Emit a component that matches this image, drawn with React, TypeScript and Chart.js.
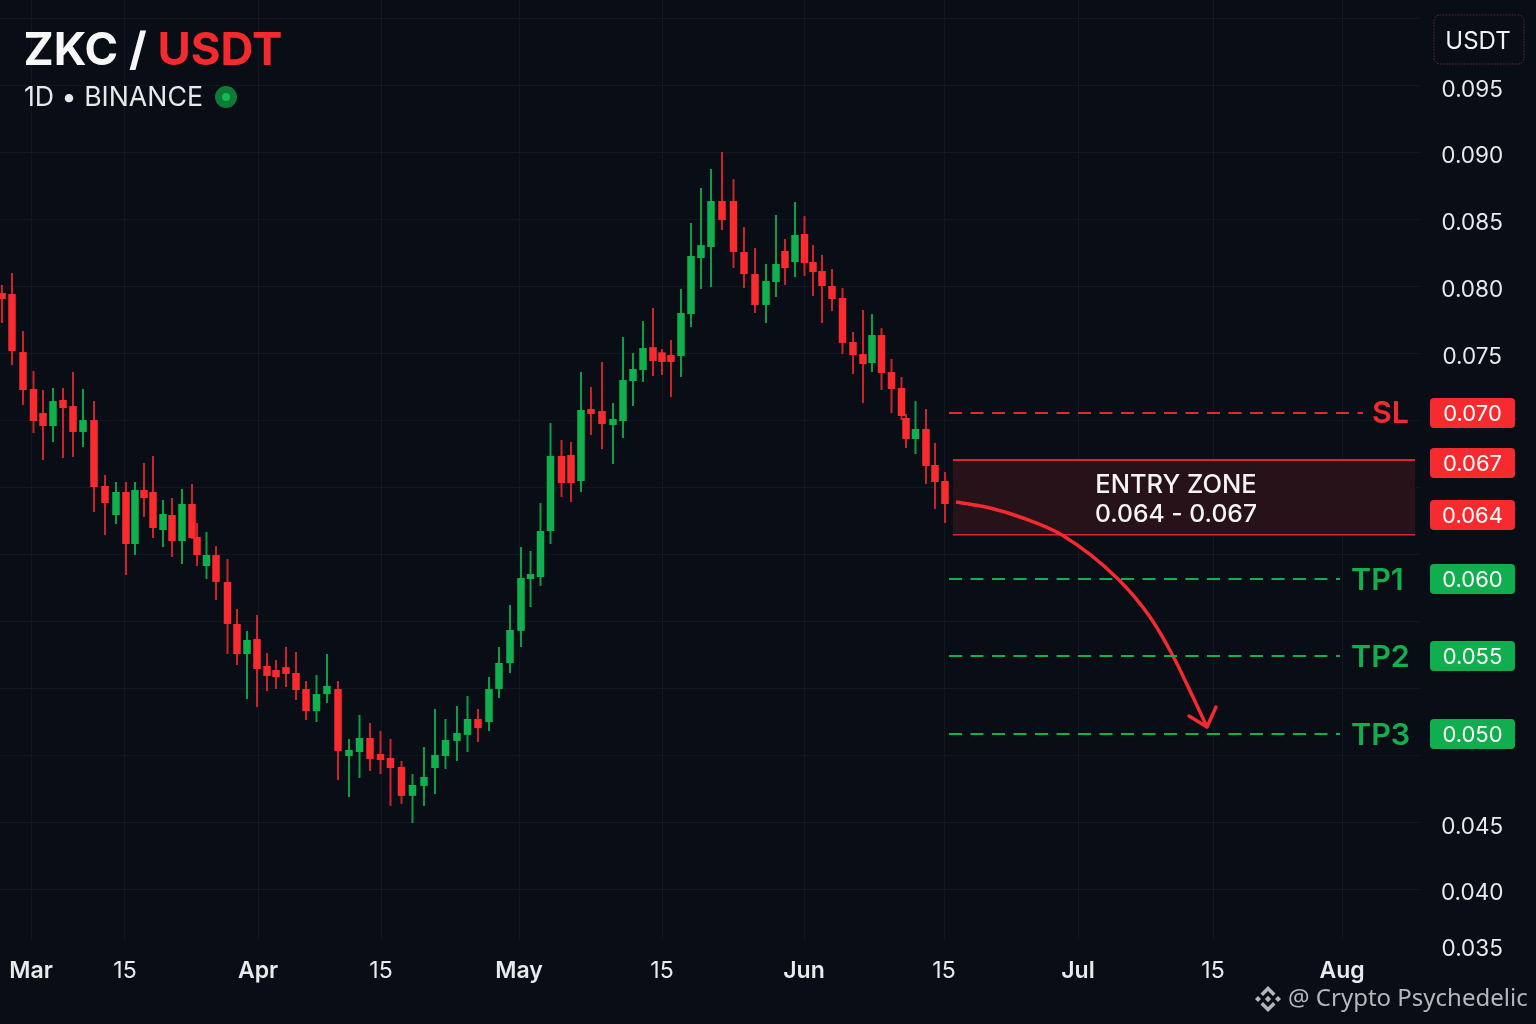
import React, { useEffect, useRef } from "react";
import { Chart, LinearScale, registerables } from "chart.js";

// ---- data ----
const sessions = [0.2,1.2,2.3,3.35,4.3,5.3,6.3,7.3,8.3,9.4,10.5,11.6,12.6,13.5,14.4,15.3,16.3,17.2,18.2,19.2,19.7,20.65,21.6,22.75,23.7,24.7,25.7,26.7,27.6,28.6,29.6,30.6,31.65,32.7,33.8,34.9,35.95,37.0,38.05,39.05,40.15,41.25,42.4,43.5,44.55,45.7,46.75,47.8,48.9,49.9,51.0,52.1,53.05,54.05,55.05,56.15,57.1,58.1,59.1,60.2,61.3,62.3,63.3,64.3,65.3,66.2,67.1,68.1,69.1,70.1,71.1,72.2,73.35,74.4,75.5,76.6,77.6,78.5,79.5,80.45,81.3,82.2,83.2,84.25,85.3,86.3,87.2,88.15,89.15,90.15,90.6,91.55,92.6,93.5,94.5];
const opens = [0.07963,0.07955,0.07522,0.07207,0.07,0.06917,0.07112,0.0706,0.06879,0.06955,0.06596,0.0648,0.06572,0.06318,0.0658,0.06572,0.0642,0.0648,0.06345,0.06524,0.06382,0.06118,0.06218,0.05981,0.05708,0.05513,0.0561,0.05436,0.0541,0.05429,0.05391,0.05288,0.05147,0.05256,0.05288,0.04879,0.04901,0.04978,0.0489,0.04868,0.04819,0.0466,0.04715,0.04813,0.04879,0.04962,0.04995,0.05096,0.05077,0.05288,0.05455,0.05663,0.06,0.06018,0.06416,0.06726,0.06732,0.06616,0.07034,0.07017,0.06923,0.06949,0.07276,0.07371,0.07559,0.0752,0.075,0.07491,0.07806,0.08224,0.08306,0.08649,0.08649,0.08269,0.08104,0.07873,0.08045,0.08276,0.08194,0.08403,0.08194,0.08127,0.08015,0.07925,0.07597,0.07507,0.07431,0.07649,0.07353,0.07216,0.06968,0.06834,0.06898,0.0668,0.06616];
const highs = [0.08022,0.08112,0.07679,0.07362,0.07198,0.07216,0.07216,0.07353,0.07207,0.07103,0.0664,0.06612,0.06612,0.06612,0.06688,0.06726,0.0654,0.06548,0.06584,0.06604,0.06448,0.06412,0.063,0.06182,0.05805,0.05663,0.05766,0.05519,0.05474,0.05559,0.05526,0.0534,0.05378,0.05513,0.0534,0.04973,0.05122,0.05071,0.05019,0.04973,0.04852,0.0478,0.04929,0.0516,0.05096,0.05179,0.05244,0.0516,0.05365,0.05558,0.05831,0.06291,0.06255,0.06528,0.06936,0.06828,0.06815,0.07353,0.07224,0.0744,0.07086,0.07634,0.07515,0.07754,0.07851,0.07545,0.07612,0.07993,0.08485,0.08746,0.08888,0.09015,0.08813,0.08455,0.08299,0.08179,0.08545,0.08366,0.08642,0.08537,0.08321,0.08246,0.08142,0.08,0.07672,0.07836,0.07806,0.07701,0.07466,0.0731,0.06994,0.07103,0.07034,0.06809,0.06652];
const lows = [0.07739,0.07414,0.07069,0.06872,0.067,0.06815,0.06713,0.06719,0.06783,0.06492,0.064,0.06444,0.06036,0.06218,0.06472,0.06373,0.06291,0.062,0.06136,0.06364,0.06118,0.06,0.05864,0.05513,0.05442,0.05224,0.05173,0.05276,0.05288,0.05301,0.05218,0.0509,0.05077,0.05199,0.04747,0.04654,0.04758,0.04797,0.0478,0.04605,0.04616,0.04511,0.04605,0.04671,0.04808,0.04852,0.04901,0.04956,0.05019,0.05231,0.05391,0.05558,0.05818,0.05955,0.06318,0.06552,0.06532,0.06572,0.0686,0.0677,0.06684,0.0684,0.0706,0.07267,0.07319,0.07328,0.07138,0.0731,0.07709,0.07993,0.08007,0.08433,0.08149,0.08,0.07813,0.07739,0.07933,0.08022,0.08082,0.0809,0.0794,0.07739,0.07828,0.07507,0.07336,0.07086,0.07353,0.07198,0.07,0.06955,0.06777,0.06738,0.06604,0.06504,0.06448];
const closes = [0.07918,0.0753,0.07198,0.06949,0.06917,0.07103,0.07043,0.06879,0.06955,0.06592,0.06528,0.06572,0.06318,0.0658,0.06548,0.06428,0.06484,0.06345,0.06524,0.06373,0.06218,0.06218,0.05981,0.05708,0.05513,0.05604,0.05417,0.05372,0.05365,0.05385,0.05282,0.05147,0.05256,0.05308,0.04907,0.04912,0.04978,0.04863,0.04857,0.04813,0.0466,0.0472,0.04764,0.04885,0.04967,0.05006,0.05096,0.05038,0.05288,0.05455,0.05669,0.06009,0.06045,0.06416,0.06726,0.06608,0.06608,0.07026,0.06994,0.0693,0.06962,0.07284,0.07379,0.07552,0.07448,0.0744,0.0744,0.07813,0.08239,0.0832,0.08649,0.08507,0.08269,0.08104,0.07873,0.08052,0.08179,0.08149,0.08396,0.08187,0.08119,0.08015,0.07918,0.0759,0.075,0.07422,0.07649,0.07345,0.07207,0.06981,0.06834,0.06898,0.06676,0.06612,0.06524];

const axisPrices = [0.095,0.09,0.085,0.08,0.075,0.045,0.04,0.035];
const dateTickSessions = [3.1,12.5,25.8,38.1,51.9,66.2,80.4,94.4,107.8,121.3,134.2];
const dateTickLabels = ["Mar","15","Apr","15","May","15","Jun","15","Jul","15","Aug"];

const stopLoss = 0.07;
const entryHigh = 0.067;
const entryLow = 0.064;
const targets = [0.06,0.055,0.05];
const targetNames = ["TP1","TP2","TP3"];
const arrowSessions = [95.6,99,102.3,106.2,111.8,115,117.3,119.2,120.7];
const arrowPrices = [0.06532,0.06508,0.06468,0.064,0.06,0.05753,0.055,0.0525,0.05045];

// ---- layout / style ----
const W = 1536, H = 1024, AREA_R = 1420, AREA_B = 940;
// the reference's price axis is not evenly spaced: prices are placed at these pixel rows
const knotPrices = [0.095,0.09,0.085,0.08,0.075,0.07,0.067,0.064,0.06,0.055,0.05,0.045,0.04,0.035];
const knotRows = [88,154,221,288,355,413,460,535,579,656,734,825,891,947];
const RED = "#F92B2F", GREEN = "#10B04F", WICK_RED = "#CC2329", WICK_GREEN = "#0E9C46", BG = "#080D16";
const SANS = "Inter, sans-serif";

class KnottedPriceScale extends (LinearScale as any) {
  static id = "knottedPrice";
  static defaults = (LinearScale as any).defaults;
  getPixelForValue(v: number) {
    const n = knotPrices.length;
    let i = 0;
    while (i < n - 2 && v < knotPrices[i + 1]) i++;
    const t = (v - knotPrices[i]) / (knotPrices[i + 1] - knotPrices[i]);
    return (this as any).top + knotRows[i] + t * (knotRows[i + 1] - knotRows[i]);
  }
  getValueForPixel(p: number) {
    const r = p - (this as any).top;
    let i = 0;
    while (i < knotRows.length - 2 && r > knotRows[i + 1]) i++;
    const t = (r - knotRows[i]) / (knotRows[i + 1] - knotRows[i]);
    return knotPrices[i] + t * (knotPrices[i + 1] - knotPrices[i]);
  }
}
Chart.register(...registerables, KnottedPriceScale as any);

const candleColor = (i: number, up: string, down: string) => (closes[i] >= opens[i] ? up : down);
const noPad = (a: any) => { a.paddingLeft = 0; a.paddingRight = 0; a.paddingTop = 0; a.paddingBottom = 0; };

function badge(ctx: any, y: number, color: string, text: string) {
  const x = 1430, w = 85, h = 30;
  ctx.fillStyle = color;
  ctx.beginPath();
  ctx.roundRect(x, y - h / 2, w, h, 4);
  ctx.fill();
  ctx.fillStyle = "#ffffff";
  ctx.font = `400 22px ${SANS}`;
  ctx.textAlign = "center";
  ctx.textBaseline = "middle";
  ctx.fillText(text, x + w / 2, y + 1);
}

function binanceMark(ctx: any, cx: number, cy: number) {
  ctx.save();
  ctx.fillStyle = "#B4B8BD";
  const d = (x: number, y: number, r: number) => {
    ctx.beginPath();
    ctx.moveTo(x, y - r); ctx.lineTo(x + r, y); ctx.lineTo(x, y + r); ctx.lineTo(x - r, y);
    ctx.closePath(); ctx.fill();
  };
  d(cx, cy, 3.2); d(cx - 10, cy, 3); d(cx + 10, cy, 3);
  const chev = (s: number) => {
    ctx.beginPath();
    ctx.moveTo(cx, cy + s * 13); ctx.lineTo(cx + 7.5, cy + s * 5.5); ctx.lineTo(cx + 5, cy + s * 3);
    ctx.lineTo(cx, cy + s * 8); ctx.lineTo(cx - 5, cy + s * 3); ctx.lineTo(cx - 7.5, cy + s * 5.5);
    ctx.closePath(); ctx.fill();
  };
  chev(-1); chev(1);
  ctx.restore();
}

const overlay = {
  id: "tradeOverlay",
  beforeDatasetsDraw(chart: any) {
    const { ctx, scales } = chart;
    const y = scales.y, x = scales.x;
    const l = x.getPixelForValue(95.3), r = x.getPixelForValue(141.5);
    const t = y.getPixelForValue(entryHigh), b = y.getPixelForValue(entryLow);
    ctx.save();
    ctx.fillStyle = "#27121A";
    ctx.fillRect(l, t, r - l, b - t);
    ctx.fillStyle = "#D9282D";
    ctx.fillRect(l, t - 1, r - l, 2);
    ctx.fillRect(l, b - 1, r - l, 1.5);
    ctx.restore();
  },
  afterDraw(chart: any) {
    const { ctx, scales } = chart;
    const y = scales.y, x = scales.x;
    ctx.save();
    ctx.textBaseline = "alphabetic";
    ctx.textAlign = "left";

    // arrow head
    const n = arrowSessions.length - 1;
    const tx = x.getPixelForValue(arrowSessions[n]), ty = y.getPixelForValue(arrowPrices[n]);
    ctx.strokeStyle = "#F42A2E";
    ctx.lineWidth = 3.5;
    ctx.lineCap = "round";
    ctx.lineJoin = "round";
    ctx.beginPath();
    ctx.moveTo(tx - 18, ty - 11); ctx.lineTo(tx, ty); ctx.lineTo(tx + 9, ty - 20);
    ctx.stroke();

    // heading
    ctx.font = `700 45.5px ${SANS}`;
    ctx.fillStyle = "#F7F7F7";
    ctx.fillText("ZKC / ", 23.5, 65);
    const w = ctx.measureText("ZKC / ").width;
    ctx.fillStyle = "#F42A2E";
    ctx.fillText("USDT", 23.5 + w, 65);
    ctx.font = `400 26.7px ${SANS}`;
    ctx.fillStyle = "#E6E8EA";
    ctx.fillText("1D • BINANCE", 24, 106);
    ctx.fillStyle = "#0D7A35";
    ctx.beginPath(); ctx.arc(226, 97, 11, 0, Math.PI * 2); ctx.fill();
    ctx.fillStyle = "#18B852";
    ctx.beginPath(); ctx.arc(226, 97, 4, 0, Math.PI * 2); ctx.fill();

    // unit box
    ctx.strokeStyle = "rgba(190,60,70,0.5)";
    ctx.lineWidth = 1;
    ctx.setLineDash([1, 2]);
    ctx.beginPath(); ctx.roundRect(1434, 15, 90, 49, 6); ctx.stroke();
    ctx.setLineDash([]);
    ctx.font = `400 24px ${SANS}`;
    ctx.fillStyle = "#F0F1F2";
    ctx.textAlign = "center";
    ctx.textBaseline = "middle";
    ctx.fillText("USDT", 1478, 42);

    // entry zone text
    ctx.font = `500 25.5px ${SANS}`;
    ctx.fillStyle = "#F5F5F5";
    ctx.fillText("ENTRY ZONE", 1176, 485);
    ctx.font = `500 24.7px ${SANS}`;
    ctx.fillText("0.064 - 0.067", 1176, 515);

    // level names
    ctx.font = `600 30.5px ${SANS}`;
    ctx.textAlign = "left";
    ctx.fillStyle = "#F42A2E";
    ctx.fillText("SL", 1372, y.getPixelForValue(stopLoss) + 1);
    ctx.fillStyle = GREEN;
    targets.forEach((v, i) => ctx.fillText(targetNames[i], 1351, y.getPixelForValue(v) + 2));

    // price badges
    badge(ctx, y.getPixelForValue(stopLoss), "#F62B30", stopLoss.toFixed(3));
    badge(ctx, y.getPixelForValue(entryHigh) + 3, "#F62B30", entryHigh.toFixed(3));
    badge(ctx, y.getPixelForValue(entryLow) - 20, "#F62B30", entryLow.toFixed(3));
    targets.forEach((v) => badge(ctx, y.getPixelForValue(v), "#10AE4E", v.toFixed(3)));

    // credit
    ctx.font = "400 24px 'Noto Sans', sans-serif";
    ctx.fillStyle = "#B4B8BD";
    ctx.textAlign = "left";
    ctx.fillText("@ Crypto Psychedelic", 1288, 999);
    binanceMark(ctx, 1268, 999);
    ctx.restore();
  },
};

const levelLine = (value: number, end: number, color: string) => ({
  type: "line" as const,
  data: [{ x: 94.9, y: value }, { x: end, y: value }],
  borderColor: color,
  borderWidth: 2,
  borderDash: [13, 8.5],
  pointRadius: 0,
  order: 0,
  xAxisID: "x",
  yAxisID: "y",
});

export default function App() {
  const ref = useRef<HTMLCanvasElement>(null);
  useEffect(() => {
    const chart = new Chart(ref.current as any, {
      type: "bar",
      data: {
        datasets: [
          {
            label: "wick",
            data: sessions.map((x, i) => ({ x, y: [lows[i], highs[i]] })),
            backgroundColor: sessions.map((_, i) => candleColor(i, WICK_GREEN, WICK_RED)),
            barThickness: 2,
            inflateAmount: 0,
            grouped: false,
            order: 3,
          },
          {
            label: "body",
            data: sessions.map((x, i) => ({ x, y: [opens[i], closes[i]] })),
            backgroundColor: sessions.map((_, i) => candleColor(i, GREEN, RED)),
            barThickness: 7.5,
            inflateAmount: 0,
            grouped: false,
            order: 2,
          },
          levelLine(stopLoss, 136.3, "#E5282E"),
          ...targets.map((v) => levelLine(v, 134, "#11B04F")),
          {
            type: "line",
            label: "path",
            data: arrowSessions.map((x, i) => ({ x, y: arrowPrices[i] })),
            borderColor: "#F42A2E",
            borderWidth: 3.5,
            pointRadius: 0,
            cubicInterpolationMode: "monotone",
            order: 0,
          },
        ] as any,
      },
      options: {
        animation: false,
        responsive: false,
        devicePixelRatio: 1,
        layout: { padding: 0 },
        plugins: { legend: { display: false }, tooltip: { enabled: false }, title: { display: false } },
        scales: {
          x: {
            type: "linear",
            position: "bottom",
            min: 0,
            max: AREA_R / 10,
            offset: false,
            border: { display: false },
            grid: { color: "rgba(255,255,255,0.04)", offset: false, drawTicks: false, lineWidth: 1 },
            afterBuildTicks: (a: any) => { a.ticks = dateTickSessions.map((value) => ({ value })); },
            afterFit: (a: any) => { a.height = H - AREA_B; noPad(a); },
            ticks: {
              autoSkip: false,
              maxRotation: 0,
              padding: 17,
              color: "#E8EAED",
              font: (c: any) => ({
                family: SANS,
                size: 23,
                weight: dateTickLabels[dateTickSessions.indexOf(c.tick?.value)] === "15" ? 400 : 600,
              }),
              callback: (v: any) => dateTickLabels[dateTickSessions.indexOf(v)],
            },
          },
          y: {
            type: "knottedPrice",
            position: "right",
            min: 0.03,
            max: 0.1,
            border: { display: false },
            grid: { display: false },
            afterBuildTicks: (a: any) => { a.ticks = axisPrices.map((value) => ({ value })); },
            afterFit: (a: any) => { a.width = W - AREA_R; noPad(a); },
            ticks: {
              autoSkip: false,
              crossAlign: "center",
              padding: 13,
              labelOffset: 2,
              color: "#E8EAED",
              font: { family: SANS, size: 22.5, weight: 400 },
              callback: (v: any) => Number(v).toFixed(3),
            },
          } as any,
          yRows: {
            type: "linear",
            axis: "y",
            position: "left",
            reverse: true,
            min: -18 / 67,
            max: (AREA_B - 18) / 67,
            border: { display: false },
            grid: { color: "rgba(255,255,255,0.04)", drawTicks: false },
            afterBuildTicks: (a: any) => { a.ticks = Array.from({ length: 14 }, (_, value) => ({ value })); },
            afterFit: (a: any) => { a.width = 0; noPad(a); },
            ticks: { display: false },
          } as any,
        },
      },
      plugins: [overlay],
    } as any);
    return () => chart.destroy();
  }, []);
  return (
    <div style={{ position: "fixed", inset: 0, background: BG }}>
      <canvas ref={ref} width={W} height={H} style={{ display: "block", width: W, height: H }} />
    </div>
  );
}
